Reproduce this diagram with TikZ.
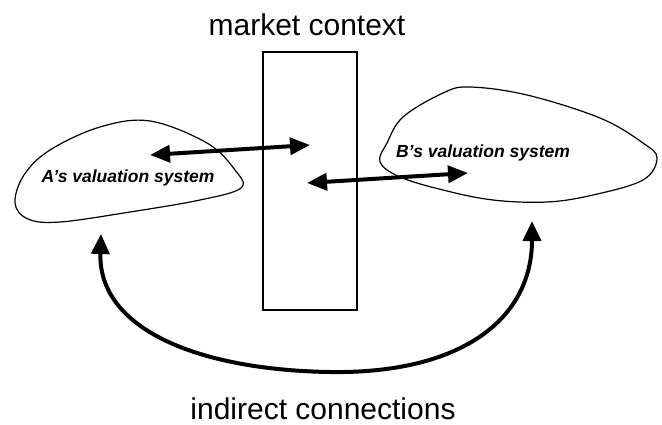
\documentclass[tikz,border=0pt]{standalone}
\usepackage{fontspec}
\setmainfont{Liberation Sans}
\usetikzlibrary{arrows.meta}
\begin{document}
\begin{tikzpicture}[x=1pt,y=-1pt,
  bigtip/.style={line width=4pt,{Triangle[length=20pt,width=17pt]}-{Triangle[length=20pt,width=17pt]}},
  blob/.style={draw,line width=1.2pt,smooth cycle,tension=0.6},
  bigtext/.style={font=\fontsize{30}{34}\selectfont,inner sep=0pt,anchor=base},
  blobtext/.style={font=\fontsize{17.5}{20}\selectfont\bfseries\itshape,inner sep=0pt,anchor=base}]
\useasboundingbox (0,0) rectangle (662,424);
% blobs
\draw[blob] plot coordinates {(150,121) (207,143) (235,170) (241,188)
  (200,200) (130,212) (60,222) (28,219) (15,203) (24,175) (50,150) (100,127)};
\draw[blob] plot coordinates {(470,87) (527,95) (600,118) (643,143) (657,158)
  (643,180) (593,195) (547,202) (493,200) (443,190) (400,177) (380,162)
  (387,143) (403,117) (443,93)};
% market rectangle
\node[draw,line width=1.1pt,minimum width=94pt,minimum height=258pt,inner sep=0pt] (ctx) at (310,181) {};
% labels
\node[bigtext] (mc) at (307,35) {market context};
\node[bigtext] (ic) at (323,419) {indirect connections};
\node[blobtext] (av) at (128,182) {A’s valuation system};
\node[blobtext] (bv) at (483,157) {B’s valuation system};
% arrow end points
\coordinate (a1) at (150,155);
\coordinate (m1) at (310,145);
\coordinate (m2) at (307,183);
\coordinate (b1) at (468,173);
\coordinate (aup) at (101,234);
\coordinate (bup) at (532,221);
\draw[bigtip] (a1) -- (m1);
\draw[bigtip] (m2) -- (b1);
\draw[{Triangle[length=20pt,width=18pt]}-{Triangle[length=20pt,width=18pt]},line width=4pt]
  (aup) .. controls (98,330) and (200,370) .. (330,372)
  .. controls (460,374) and (532,320) .. (bup);
\end{tikzpicture}
\end{document}
